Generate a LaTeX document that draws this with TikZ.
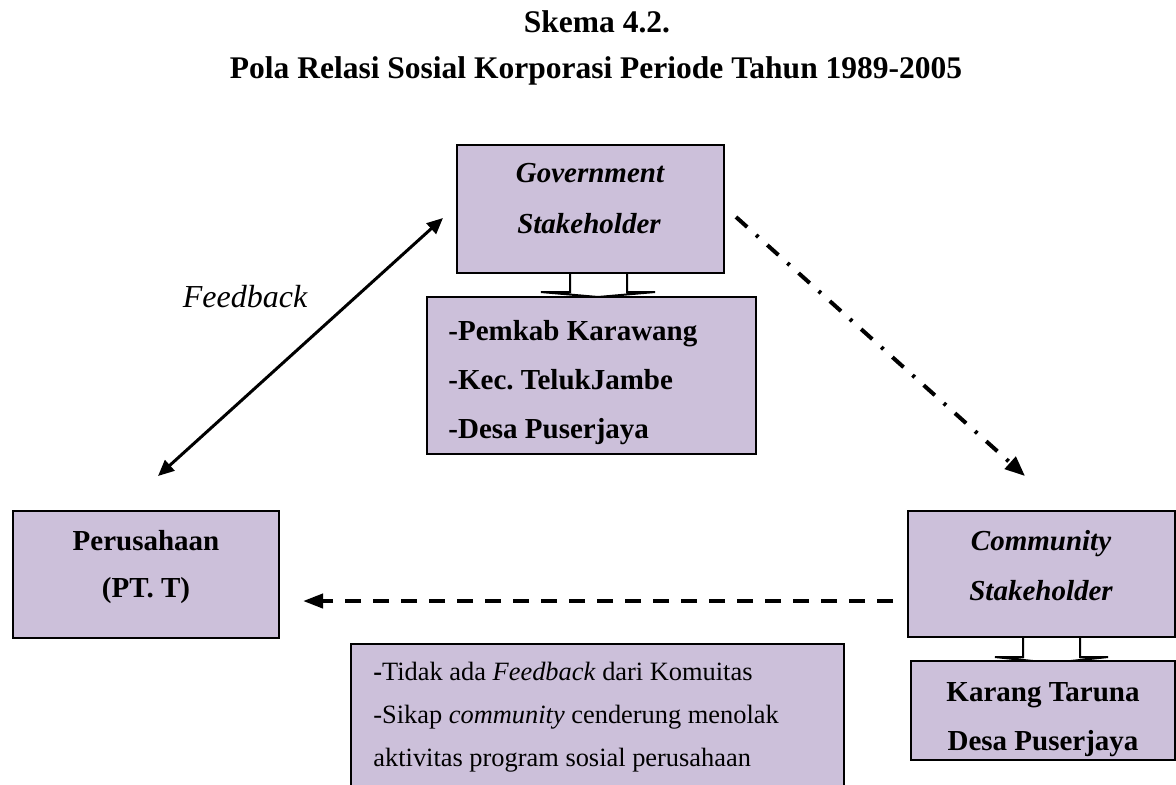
\documentclass[tikz,border=0pt]{standalone}
\usepackage{fontspec}
\setmainfont{Liberation Serif}
\usetikzlibrary{arrows.meta,fit}
\definecolor{lav}{HTML}{CCC0DA}
\frenchspacing

\begin{document}
\begin{tikzpicture}[x=0.5pt,y=-0.5pt,
  box/.style={draw=black, line width=1pt, fill=lav, inner sep=0pt},
  blockarrow/.style={draw=black, line width=1pt, fill=white, line join=miter},
  lbl/.style={anchor=base, inner sep=0pt, font=\fontsize{14.5}{17}\selectfont\bfseries},
  lblleft/.style={lbl, anchor=base west},
  note/.style={anchor=base west, inner sep=0pt, font=\fontsize{13.2}{16}\selectfont},
  ttl/.style={anchor=base, inner sep=0pt, font=\fontsize{15.75}{19}\selectfont\bfseries},
  fbarrow/.style={line width=1.5pt, {Triangle[length=8pt,width=7pt]}-{Triangle[length=8pt,width=7pt]}},
  dotarrow/.style={line width=2pt, dash pattern=on 7.5pt off 6pt on 1.5pt off 6pt,
    -{Triangle[length=10pt,width=8pt]}},
  dasharrow/.style={line width=2pt, dash pattern=on 8pt off 6pt,
    -{Triangle[length=10pt,width=7pt]}}
]
\useasboundingbox (0,0) rectangle (1176,784);
\clip (0,0) rectangle (1176,784);

% title
\node[ttl] (t1) at (597,32) {Skema 4.2.};
\node[ttl] (t2) at (596,78) {Pola Relasi Sosial Korporasi Periode Tahun 1989-2005};

% block arrows from the stakeholder boxes to their member boxes
\draw[blockarrow] (570,273) -- (570,292) -- (541,292) -- (598,297) -- (655,292)
  -- (627,292) -- (627,273);
\draw[blockarrow] (1023,637) -- (1023,657) -- (995,657) -- (1052,663) -- (1108,657)
  -- (1080,657) -- (1080,637);

% boxes
\node[box, fit={(457,145) (724,273)}] (gov) {};
\node[box, fit={(427,297) (756,454)}] (govlist) {};
\node[box, fit={(13,511) (279,638)}] (firm) {};
\node[box, fit={(908,511) (1175,637)}] (comm) {};
\node[box, fit={(911,661) (1175,760)}] (karang) {};
\node[box, fit={(351,644) (844,800)}] (noteBox) {};

% box texts
\node[lbl] (govA) at (590,182) {\itshape Government};
\node[lbl] (govB) at (589,233) {\itshape Stakeholder};

\node[lblleft] (gl1) at (448,340) {-Pemkab Karawang};
\node[lblleft] (gl2) at (448,389) {-Kec. TelukJambe};
\node[lblleft] (gl3) at (448,438) {-Desa Puserjaya};

\node[lbl] (firmA) at (146,550) {Perusahaan};
\node[lbl] (firmB) at (146,597) {(PT. T)};

\node[lbl] (commA) at (1041,550) {\itshape Community};
\node[lbl] (commB) at (1041,600) {\itshape Stakeholder};

\node[lbl] (karA) at (1043,701) {Karang Taruna};
\node[lbl] (karB) at (1043,750) {Desa Puserjaya};

\node[note] (n1) at (373,680) {\textbf{-}Tidak ada \textit{Feedback} dari Komuitas};
\node[note] (n2) at (373,723) {-Sikap \textit{community} cenderung menolak};
\node[note] (n3) at (373,766) {aktivitas program sosial perusahaan};

% connectors
\coordinate (fbTop) at (443,218);
\coordinate (fbBot) at (158,476);
\draw[fbarrow] (fbBot) -- (fbTop);
\node[anchor=base, inner sep=0pt, font=\fontsize{16}{19}\selectfont\itshape] (fbLabel) at (245,307) {Feedback};

\coordinate (ddStart) at (736,217);
\coordinate (ddEnd) at (1025,476);
\draw[dotarrow] (ddStart) -- (ddEnd);

\coordinate (hdStart) at (893,601);
\coordinate (hdEnd) at (303,601);
\draw[dasharrow] (hdStart) -- (hdEnd);
\end{tikzpicture}
\end{document}
